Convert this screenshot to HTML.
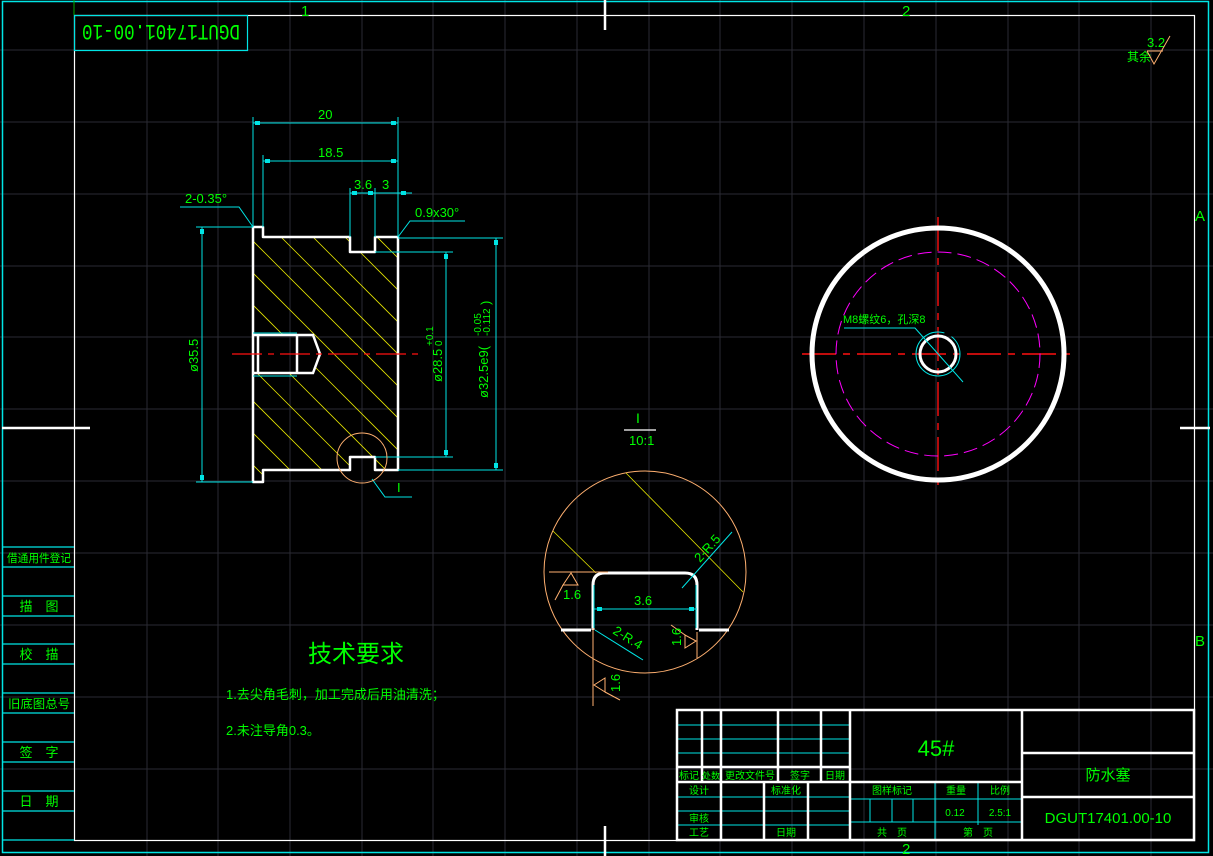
<!DOCTYPE html>
<html><head><meta charset="utf-8"><style>
html,body{margin:0;padding:0;background:#000;}
svg{display:block;}
text{font-family:"Liberation Sans","Noto Sans CJK SC",sans-serif;fill:#00ff00;}
</style></head><body>
<svg width="1213" height="856" viewBox="0 0 1213 856" xmlns="http://www.w3.org/2000/svg">
<defs>
<clipPath id="body"><path d="M253,227 H263 V237 H350 V252 H375 V237 H398 V470 H375 V457 H350 V470 H263 V482 H253 Z M253,335 H313 L320,354 L313,373 H253 Z" clip-rule="evenodd"/></clipPath>
</defs>
<rect width="1213" height="856" fill="#000"/>
<g stroke="#2a2a33" stroke-width="1">
<line x1="147" y1="0" x2="147" y2="856"/><line x1="218" y1="0" x2="218" y2="856"/><line x1="290" y1="0" x2="290" y2="856"/><line x1="362" y1="0" x2="362" y2="856"/><line x1="433" y1="0" x2="433" y2="856"/><line x1="505" y1="0" x2="505" y2="856"/><line x1="577" y1="0" x2="577" y2="856"/><line x1="649" y1="0" x2="649" y2="856"/><line x1="720" y1="0" x2="720" y2="856"/><line x1="792" y1="0" x2="792" y2="856"/><line x1="864" y1="0" x2="864" y2="856"/><line x1="936" y1="0" x2="936" y2="856"/><line x1="1008" y1="0" x2="1008" y2="856"/><line x1="1079" y1="0" x2="1079" y2="856"/><line x1="1151" y1="0" x2="1151" y2="856"/>
<line x1="0" y1="50" x2="1213" y2="50"/><line x1="0" y1="122" x2="1213" y2="122"/><line x1="0" y1="194" x2="1213" y2="194"/><line x1="0" y1="266" x2="1213" y2="266"/><line x1="0" y1="337" x2="1213" y2="337"/><line x1="0" y1="409" x2="1213" y2="409"/><line x1="0" y1="481" x2="1213" y2="481"/><line x1="0" y1="553" x2="1213" y2="553"/><line x1="0" y1="625" x2="1213" y2="625"/><line x1="0" y1="697" x2="1213" y2="697"/><line x1="0" y1="769" x2="1213" y2="769"/>
</g>
<rect x="2.5" y="1.5" width="1206" height="851" fill="none" stroke="#00e5e5" stroke-width="1.5"/>
<rect x="74.5" y="15.5" width="1120" height="825" fill="none" stroke="#fff" stroke-width="1.2"/>
<line x1="605" y1="0" x2="605" y2="30" stroke="#fff" stroke-width="2.5"/>
<line x1="605" y1="826" x2="605" y2="856" stroke="#fff" stroke-width="2.5"/>
<line x1="2" y1="428" x2="90" y2="428" stroke="#fff" stroke-width="2.5"/>
<line x1="1180" y1="428" x2="1210" y2="428" stroke="#fff" stroke-width="2.5"/>
<line x1="74" y1="0" x2="74" y2="15" stroke="#0a0" stroke-width="1"/>
<g font-size="15" fill="#00ff00">
<text x="301" y="16">1</text><text x="902" y="16">2</text><text x="902" y="854">2</text>
<text x="1195" y="221">A</text><text x="1195" y="646">B</text>
</g>
<rect x="74.5" y="15.5" width="173" height="35" fill="none" stroke="#00e5e5" stroke-width="1.2"/>
<text transform="translate(161,33) rotate(180)" x="0" y="8" font-size="22" text-anchor="middle" textLength="158" lengthAdjust="spacingAndGlyphs" style="font-family:'Liberation Mono',monospace">DGUT17401.00-10</text>
<g stroke="#00e5e5" stroke-width="1.2">
<line x1="2" y1="547" x2="74" y2="547"/><line x1="2" y1="567" x2="74" y2="567"/>
<line x1="2" y1="596" x2="74" y2="596"/><line x1="2" y1="616" x2="74" y2="616"/>
<line x1="2" y1="644" x2="74" y2="644"/><line x1="2" y1="664" x2="74" y2="664"/>
<line x1="2" y1="693" x2="74" y2="693"/><line x1="2" y1="713" x2="74" y2="713"/>
<line x1="2" y1="742" x2="74" y2="742"/><line x1="2" y1="762" x2="74" y2="762"/>
<line x1="2" y1="791" x2="74" y2="791"/><line x1="2" y1="811" x2="74" y2="811"/>
<line x1="2" y1="840" x2="74" y2="840"/>
</g>
<g font-size="13" text-anchor="middle">
<text x="39" y="562" font-size="11.5" textLength="64" lengthAdjust="spacingAndGlyphs">借通用件登记</text><text x="39" y="611">描　图</text><text x="39" y="659">校　描</text>
<text x="39" y="708" font-size="12" textLength="62" lengthAdjust="spacingAndGlyphs">旧底图总号</text><text x="39" y="757">签　字</text><text x="39" y="806">日　期</text>
</g>
<text x="1127" y="61" font-size="12">其余</text>
<text x="1147" y="47" font-size="13">3.2</text>
<path d="M1147,51 H1163 M1147,51 L1154,64 L1170,36" fill="none" stroke="#ffb070" stroke-width="1"/>

<g clip-path="url(#body)" stroke="#e5e500" stroke-width="0.8">
<line x1="180" y1="200" x2="480" y2="500"/><line x1="212" y1="200" x2="512" y2="500"/><line x1="244" y1="200" x2="544" y2="500"/><line x1="276" y1="200" x2="576" y2="500"/><line x1="308" y1="200" x2="608" y2="500"/><line x1="340" y1="200" x2="640" y2="500"/><line x1="372" y1="200" x2="672" y2="500"/><line x1="148" y1="200" x2="448" y2="500"/><line x1="116" y1="200" x2="416" y2="500"/><line x1="84" y1="200" x2="384" y2="500"/><line x1="52" y1="200" x2="352" y2="500"/><line x1="20" y1="200" x2="320" y2="500"/><line x1="-12" y1="200" x2="288" y2="500"/>
</g>
<path d="M253,227 H263 V237 H350 V252 H375 V237 H398 V470 H375 V457 H350 V470 H263 V482 H253 Z" fill="none" stroke="#fff" stroke-width="2.5" stroke-linejoin="round"/>
<path d="M253,335 H313 L320,354 L313,373 H253 M258,335 V373 M297,335 V373" fill="none" stroke="#fff" stroke-width="2.5"/>
<line x1="253" y1="333" x2="297" y2="333" stroke="#00e5e5" stroke-width="1"/>
<line x1="253" y1="376" x2="297" y2="376" stroke="#00e5e5" stroke-width="1"/>
<line x1="232" y1="354" x2="419" y2="354" stroke="#ff1010" stroke-width="1.2" stroke-dasharray="30,6,6,6"/>
<g stroke="#00e5e5" stroke-width="1" fill="none">
<line x1="253" y1="117" x2="253" y2="227"/><line x1="398" y1="117" x2="398" y2="237"/>
<line x1="253" y1="123" x2="398" y2="123"/>
<line x1="263" y1="155" x2="263" y2="227"/><line x1="263" y1="161" x2="398" y2="161"/>
<line x1="350" y1="188" x2="350" y2="237"/><line x1="375" y1="188" x2="375" y2="237"/>
<line x1="350" y1="193" x2="412" y2="193"/>
<path d="M180,207 H239 L253,227"/>
<path d="M465,221 H410 L398,237"/>
<line x1="196" y1="227" x2="253" y2="227"/><line x1="196" y1="482" x2="253" y2="482"/>
<line x1="202" y1="227" x2="202" y2="482"/>
<line x1="375" y1="252" x2="453" y2="252"/><line x1="375" y1="457" x2="453" y2="457"/>
<line x1="446" y1="252" x2="446" y2="457"/>
<line x1="398" y1="238" x2="503" y2="238"/><line x1="398" y1="470" x2="503" y2="470"/>
<line x1="496" y1="238" x2="496" y2="470"/>
<path d="M372,479 L385,497 H412"/>
</g>
<g fill="#00e5e5">
<rect x="255" y="121" width="5" height="4"/><rect x="391" y="121" width="5" height="4"/>
<rect x="265" y="159" width="5" height="4"/><rect x="391" y="159" width="5" height="4"/>
<rect x="352" y="191" width="5" height="4"/><rect x="368" y="191" width="5" height="4"/><rect x="401" y="191" width="5" height="4"/>
<rect x="200" y="229" width="4" height="5"/><rect x="200" y="475" width="4" height="5"/>
<rect x="444" y="254" width="4" height="5"/><rect x="444" y="450" width="4" height="5"/>
<rect x="494" y="240" width="4" height="5"/><rect x="494" y="463" width="4" height="5"/>
</g>
<circle cx="362" cy="458" r="25" fill="none" stroke="#ffb070" stroke-width="1"/>
<g font-size="13">
<text x="318" y="119">20</text><text x="318" y="157">18.5</text>
<text x="354" y="189">3.6</text><text x="382" y="189">3</text>
<text x="185" y="203">2-0.35°</text><text x="415" y="217">0.9x30°</text>
<text x="397" y="492">I</text>
<text transform="translate(198,372) rotate(-90)">ø35.5</text>
<text transform="translate(442,382) rotate(-90)">ø28.5</text>
<text transform="translate(433,346) rotate(-90)" font-size="10">+0.1</text>
<text transform="translate(442,346) rotate(-90)" font-size="10">0</text>
<text transform="translate(488,398) rotate(-90)">ø32.5e9(</text>
<text transform="translate(481,336) rotate(-90)" font-size="10">-0.05</text>
<text transform="translate(490,336) rotate(-90)" font-size="10">-0.112</text>
<text transform="translate(490,305) rotate(-90)">)</text>
</g>

<text x="636" y="423" font-size="14">I</text>
<line x1="624" y1="430" x2="656" y2="430" stroke="#fff" stroke-width="1.2"/>
<text x="629" y="445" font-size="13">10:1</text>
<circle cx="645" cy="572" r="101" fill="none" stroke="#ffb070" stroke-width="1"/>
<line x1="626" y1="473" x2="743" y2="592" stroke="#e5e500" stroke-width="0.8"/>
<line x1="553" y1="531" x2="596" y2="573" stroke="#e5e500" stroke-width="0.8"/>
<path d="M561,630 H591 M593,630 V585 Q593,573 605,573 H685 Q697,573 697,585 V630 M699,630 H729" fill="none" stroke="#fff" stroke-width="3"/>
<line x1="594" y1="585" x2="594" y2="628" stroke="#00e5e5" stroke-width="1"/>
<line x1="696" y1="585" x2="696" y2="628" stroke="#00e5e5" stroke-width="1"/>
<line x1="594" y1="609" x2="697" y2="609" stroke="#00e5e5" stroke-width="1"/>
<rect x="597" y="607" width="5" height="4" fill="#00e5e5"/><rect x="689" y="607" width="5" height="4" fill="#00e5e5"/>
<text x="634" y="605" font-size="13">3.6</text>
<line x1="682" y1="588" x2="732" y2="532" stroke="#00e5e5" stroke-width="1"/>
<text transform="translate(700,563) rotate(-48)" font-size="13">2-R.5</text>
<line x1="595" y1="630" x2="643" y2="660" stroke="#00e5e5" stroke-width="1"/>
<text transform="translate(612,633) rotate(32)" font-size="13">2-R.4</text>
<g stroke="#ffb070" stroke-width="1" fill="none">
<line x1="549" y1="572" x2="608" y2="572"/>
<path d="M571,573 L563,585 H578 Z"/><line x1="563" y1="585" x2="555" y2="600"/>
<line x1="593" y1="628" x2="593" y2="706"/>
<path d="M594,685 L605,678 V692 Z"/><line x1="605" y1="692" x2="620" y2="700"/>
<line x1="697" y1="632" x2="697" y2="658"/>
<path d="M696,641 L685,635 V648 Z"/><line x1="685" y1="635" x2="671" y2="625"/>
</g>
<text x="563" y="599" font-size="13">1.6</text>
<text transform="translate(620,692) rotate(-90)" font-size="13">1.6</text>
<text transform="translate(681,646) rotate(-90)" font-size="13">1.6</text>

<line x1="802" y1="354" x2="1075" y2="354" stroke="#ff1010" stroke-width="1.4" stroke-dasharray="34,7,7,7"/>
<line x1="938" y1="217" x2="938" y2="490" stroke="#ff1010" stroke-width="1.4" stroke-dasharray="34,7,7,7"/>
<circle cx="938" cy="354" r="126" fill="none" stroke="#fff" stroke-width="5"/>
<circle cx="938" cy="354" r="102" fill="none" stroke="#ff00ff" stroke-width="1" stroke-dasharray="14,6"/>
<circle cx="938" cy="354" r="18" fill="none" stroke="#fff" stroke-width="3"/>
<circle cx="938" cy="354" r="22" fill="none" stroke="#00e5e5" stroke-width="1" stroke-dasharray="110,8"/>
<path d="M844,328 H915 L963,382" fill="none" stroke="#00e5e5" stroke-width="1"/>
<text x="843" y="323" font-size="11">M8螺纹6，孔深8</text>

<text x="308" y="662" font-size="24">技术要求</text>
<text x="226" y="699" font-size="13">1.去尖角毛刺，加工完成后用油清洗；</text>
<text x="226" y="735" font-size="13">2.未注导角0.3。</text>

<g stroke="#00e5e5" stroke-width="1">
<line x1="677" y1="725" x2="850" y2="725"/><line x1="677" y1="739" x2="850" y2="739"/><line x1="677" y1="753" x2="850" y2="753"/>
<line x1="677" y1="797" x2="850" y2="797"/><line x1="677" y1="811" x2="850" y2="811"/><line x1="677" y1="825" x2="850" y2="825"/>
<line x1="935" y1="782" x2="935" y2="840"/><line x1="978" y1="782" x2="978" y2="825"/>
<line x1="850" y1="799" x2="1022" y2="799"/><line x1="850" y1="822" x2="1022" y2="822"/>
<line x1="870" y1="799" x2="870" y2="822"/><line x1="892" y1="799" x2="892" y2="822"/><line x1="913" y1="799" x2="913" y2="822"/>
</g>
<g stroke="#fff" stroke-width="2.5" fill="none">
<rect x="677" y="710" width="517" height="130"/>
<line x1="702" y1="710" x2="702" y2="782"/><line x1="721" y1="710" x2="721" y2="840"/>
<line x1="778" y1="710" x2="778" y2="782"/><line x1="821" y1="710" x2="821" y2="782"/>
<line x1="850" y1="710" x2="850" y2="840"/><line x1="1022" y1="710" x2="1022" y2="840"/>
<line x1="764" y1="782" x2="764" y2="840"/><line x1="808" y1="782" x2="808" y2="840"/>
<line x1="677" y1="767" x2="850" y2="767"/><line x1="677" y1="782" x2="1022" y2="782"/>
<line x1="1022" y1="753" x2="1194" y2="753"/><line x1="1022" y1="797" x2="1194" y2="797"/>
</g>
<g font-size="10" text-anchor="middle">
<text x="689" y="779">标记</text><text x="711" y="779" font-size="9">处数</text><text x="750" y="779">更改文件号</text><text x="800" y="779">签字</text><text x="835" y="779">日期</text>
<text x="699" y="794">设计</text><text x="786" y="794">标准化</text>
<text x="699" y="822">审核</text><text x="699" y="836">工艺</text><text x="786" y="836">日期</text>
<text x="892" y="794">图样标记</text><text x="956" y="794">重量</text><text x="1000" y="794">比例</text>
<text x="955" y="816">0.12</text><text x="1000" y="816">2.5:1</text>
<text x="892" y="836">共　页</text><text x="978" y="836">第　页</text>
</g>
<text x="936" y="756" font-size="22" text-anchor="middle">45#</text>
<text x="1108" y="780" font-size="15" text-anchor="middle">防水塞</text>
<text x="1108" y="823" font-size="15" text-anchor="middle">DGUT17401.00-10</text>
</svg>
</body></html>
